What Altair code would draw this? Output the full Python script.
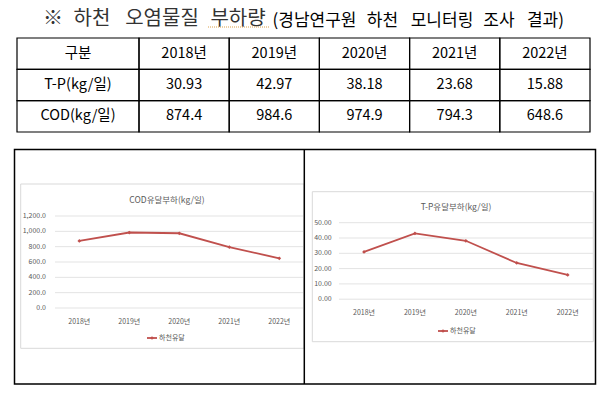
import altair as alt
import pandas as pd

# ---------------- data ----------------
years = ["2018", "2019", "2020", "2021", "2022"]
year_labels = ["2018년", "2019년", "2020년", "2021년", "2022년"]
tp_values = [30.93, 42.97, 38.18, 23.68, 15.88]
cod_values = [874.4, 984.6, 974.9, 794.3, 648.6]
row_labels = ["구분", "T-P(kg/일)", "COD(kg/일)"]
cod_ticks = [0, 200, 400, 600, 800, 1000, 1200]
tp_ticks = [0, 10, 20, 30, 40, 50]
title_main_words = ["※", "하천", "오염물질", "부하량"]
title_sub_words = ["(경남연구원", "하천", "모니터링", "조사", "결과)"]
cod_title = "COD유달부하(kg/일)"
tp_title = "T-P유달부하(kg/일)"
series_name = "하천유달"

# ---------------- styling ----------------
W, H = 590, 382
FONT = "Noto Sans CJK KR"
RED = "#c0504d"
GRAY = "#595959"
GRID = "#e3e3e3"

one = pd.DataFrame({"k": [0]})


def box(x0, y0, x1, y1, color, sw):
    return alt.Chart(one).mark_rect(filled=False, stroke=color, strokeWidth=sw).encode(
        x=alt.value(x0), x2=alt.value(x1), y=alt.value(y0), y2=alt.value(y1))


def rule(x0, x1, y0, y1, color, sw, dash=None):
    kw = dict(color=color, strokeWidth=sw)
    if dash:
        kw["strokeDash"] = dash
    return alt.Chart(one).mark_rule(**kw).encode(
        x=alt.value(x0), x2=alt.value(x1), y=alt.value(y0), y2=alt.value(y1))


def label(txt, x, y, size, color, align="center", baseline="middle", weight="normal"):
    return alt.Chart(one).mark_text(text=txt, font=FONT, fontSize=size, color=color,
                                    align=align, baseline=baseline, fontWeight=weight).encode(
        x=alt.value(x), y=alt.value(y))


# ---------------- title (word by word, to keep the wide word spacing) ----------------
main_x = [45, 84, 154, 230]
sub_x = [306.5, 374.5, 434, 491, 537.5]
title_layers = (
    [label(w, x, 11, 20, "#333333") for w, x in zip(title_main_words, main_x)]
    + [label(w, x, 12.5, 17, "#000000") for w, x in zip(title_sub_words, sub_x)]
    + [rule(200, 261, 19, 19, "#d9a04a", 1, dash=[1, 1])]
)

# ---------------- table ----------------
cells = []
for i, y in enumerate(years):
    cells.append({"row": row_labels[0], "year": y, "text": year_labels[i]})
    cells.append({"row": row_labels[1], "year": y, "text": f"{tp_values[i]:.2f}"})
    cells.append({"row": row_labels[2], "year": y, "text": f"{cod_values[i]:.1f}"})
cells_df = pd.DataFrame(cells)
rows_df = pd.DataFrame({"row": row_labels})

tx = alt.X("year:N", scale=alt.Scale(domain=years, range=[131, 582], paddingInner=0, paddingOuter=0), axis=None)
ty = alt.Y("row:N", scale=alt.Scale(domain=row_labels, range=[30, 124], paddingInner=0, paddingOuter=0), axis=None)

table = alt.layer(
    alt.Chart(cells_df).mark_rect(filled=False, stroke="black", strokeWidth=1.2).encode(x=tx, y=ty),
    alt.Chart(rows_df).mark_rect(filled=False, stroke="black", strokeWidth=1.2).encode(
        x=alt.value(9), x2=alt.value(131), y=ty),
    alt.Chart(cells_df).mark_text(font=FONT, fontSize=14.5, color="black").encode(x=tx, y=ty, text="text:N"),
    alt.Chart(rows_df).mark_text(font=FONT, fontSize=14.5, color="black").encode(
        x=alt.value(70), y=ty, text="row:N"),
)


# ---------------- line charts ----------------
def line_panel(values, ticks, fmt, xrange, yrange, grid_x, ylab_x, xlab_y):
    df = pd.DataFrame({"year": years, "value": values, "label": year_labels})
    tdf = pd.DataFrame({"value": ticks})
    xs = alt.X("year:N", scale=alt.Scale(type="point", domain=years, range=xrange, padding=0), axis=None)
    ys = alt.Y("value:Q", scale=alt.Scale(domain=[ticks[0], ticks[-1]], range=yrange, nice=False, zero=False),
               axis=None)
    return alt.layer(
        alt.Chart(tdf).mark_rule(color=GRID, strokeWidth=1).encode(
            y=ys, x=alt.value(grid_x[0]), x2=alt.value(grid_x[1])),
        alt.Chart(tdf).mark_text(font=FONT, fontSize=7, color=GRAY, align="right").encode(
            y=ys, x=alt.value(ylab_x), text=alt.Text("value:Q", format=fmt)),
        alt.Chart(df).mark_text(font=FONT, fontSize=7, color=GRAY).encode(
            x=xs, y=alt.value(xlab_y), text="label:N"),
        alt.Chart(df).mark_line(color=RED, strokeWidth=1.8).encode(x=xs, y=ys),
        alt.Chart(df).mark_point(shape="diamond", filled=True, size=14, color=RED, opacity=1).encode(x=xs, y=ys),
    )


cod_panel = line_panel(cod_values, cod_ticks, ",.1f", [71.3, 271.3], [300, 208], (47, 295), 38, 314)
tp_panel = line_panel(tp_values, tp_ticks, ".2f", [356, 559.7], [291.2, 214.7], (331, 585), 323.7, 305)


def legend(x0, y):
    return [
        rule(x0, x0 + 10, y, y, RED, 1.8),
        alt.Chart(one).mark_point(shape="diamond", filled=True, size=14, color=RED, opacity=1).encode(
            x=alt.value(x0 + 5), y=alt.value(y)),
        label(series_name, x0 + 12, y, 7, GRAY, align="left"),
    ]


bottom = [
    box(12.7, 176, 296, 340.3, "#d9d9d9", 1),
    box(304.3, 183.7, 585.3, 333.7, "#d9d9d9", 1),
    label(cod_title, 159, 192, 8.5, GRAY),
    label(tp_title, 448, 199, 8.5, GRAY),
    *legend(139, 330),
    *legend(430, 323),
    box(6.5, 141.5, 587.5, 376, "black", 1.5),
    rule(296.3, 296.3, 141.5, 376, "black", 1.5),
]

layers = title_layers + [table, cod_panel, tp_panel] + bottom

chart = alt.layer(*layers).resolve_scale(x="independent", y="independent").properties(
    width=W, height=H, padding=0, autosize=alt.AutoSizeParams(type="none")
).configure_view(stroke=None)

chart.save("out.html", embed_options={"renderer": "svg", "actions": False})
